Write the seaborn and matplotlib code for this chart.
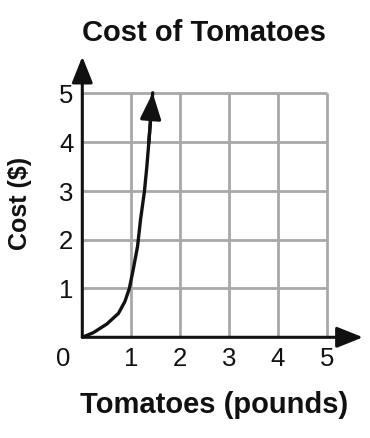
import matplotlib
matplotlib.use("Agg")
import matplotlib.pyplot as plt
import seaborn as sns
import pandas as pd

# curve (pounds -> dollars)
pounds = [0, 0.225, 0.50, 0.74, 0.87, 0.96, 1.04, 1.13, 1.19, 1.27, 1.32, 1.36, 1.40, 1.44]
cost = [0, 0.095, 0.27, 0.49, 0.73, 0.99, 1.38, 1.86, 2.40, 2.98, 3.49, 3.98, 4.52, 5.0]
ticks = [1, 2, 3, 4, 5]

df = pd.DataFrame({"pounds": pounds, "cost": cost})

sns.set_style("white")
plt.rcParams["font.family"] = ["Liberation Sans", "DejaVu Sans"]

fig = plt.figure(figsize=(3.7, 4.38), dpi=100)
ax = fig.add_axes([82.3 / 370, 100.7 / 438, 290 / 370, 290 / 438])
lim = 290 / 48.9
ax.set_xlim(0, lim)
ax.set_ylim(0, lim)
for s in ax.spines.values():
    s.set_visible(False)
ax.set_xticks([])
ax.set_yticks([])

ink = "#111111"
grid_c = "#a8a8a8"
for t in ticks:
    ax.plot([t, t], [0, 5], color=grid_c, lw=2, zorder=1, solid_capstyle="butt")
    ax.plot([0, 5], [t, t], color=grid_c, lw=2, zorder=1, solid_capstyle="butt")

# axes with arrows
arrow = dict(arrowstyle="-|>,head_length=0.8,head_width=0.32", color=ink, lw=2.2,
             shrinkA=0, shrinkB=0, mutation_scale=20)
ax.annotate("", xy=(5.74, 0), xytext=(0, 0), arrowprops=arrow, zorder=3)
ax.annotate("", xy=(0, 5.74), xytext=(0, 0), arrowprops=arrow, zorder=3)

sns.lineplot(data=df, x="pounds", y="cost", color=ink, lw=2.4, ax=ax, zorder=4,
             estimator=None, sort=False)
ax.annotate("", xy=(pounds[-1], cost[-1]), xytext=(pounds[-3], cost[-3]),
            arrowprops=dict(arrow, lw=2.4), zorder=5)
ax.set_xlabel("")
ax.set_ylabel("")

fs = 18.5
for t in ticks:
    ax.text(t, -0.45, str(t), ha="center", va="center", fontsize=fs, color=ink)
    ax.text(-0.18, t - 0.06, str(t), ha="right", va="center", fontsize=fs, color=ink)
ax.text(-0.4, -0.45, "0", ha="center", va="center", fontsize=fs, color=ink)

fig.text(204 / 370, 1 - 33 / 438, "Cost of Tomatoes", ha="center", va="center",
         fontsize=21, fontweight="bold", color=ink)
fig.text(214 / 370, 1 - 405 / 438, "Tomatoes (pounds)", ha="center", va="center",
         fontsize=21, fontweight="bold", color=ink)
fig.text(20 / 370, 1 - 203 / 438, "Cost ($)", ha="center", va="center", rotation=90,
         fontsize=18, fontweight="bold", color=ink)

fig.savefig("out.png", dpi=100, facecolor="white")
